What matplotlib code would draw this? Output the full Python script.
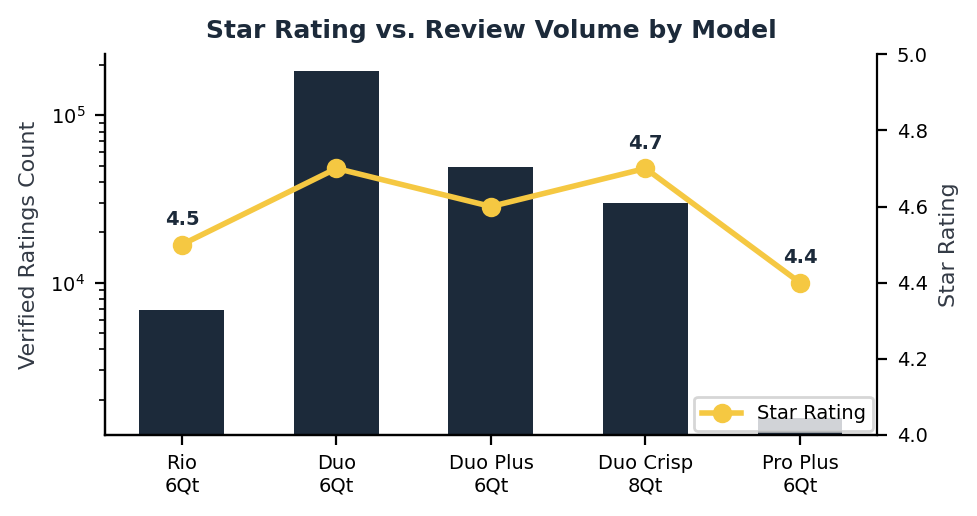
import matplotlib
matplotlib.use("Agg")
import matplotlib.pyplot as plt
import numpy as np

models = ["Rio\n6Qt", "Duo\n6Qt", "Duo Plus\n6Qt", "Duo Crisp\n8Qt", "Pro Plus\n6Qt"]
counts = [6880, 183000, 48900, 30100, 1550]
ratings = [4.5, 4.7, 4.6, 4.7, 4.4]
labeled = [0, 3, 4]

navy = "#1c2a3a"
gold = "#f5c842"

fig, ax = plt.subplots(figsize=(4.89, 2.58), dpi=200)
x = np.arange(len(models))
ax.bar(x, counts, width=0.55, color=navy, zorder=1)
ax.set_yscale("log")
ax.set_ylim(1230, 232000)
ax.set_xlim(-0.5, 4.5)
ax.set_xticks(x)
ax.set_xticklabels(models, fontsize=7)
ax.tick_params(axis="y", labelsize=7)
ax.set_ylabel("Verified Ratings Count", fontsize=8, color="#333a45")
ax.spines["top"].set_visible(False)
ax.spines["right"].set_visible(False)

ax2 = ax.twinx()
ax2.plot(x, ratings, color=gold, lw=2, marker="o", ms=6, label="Star Rating", zorder=3)
ax2.set_ylim(4.0, 5.0)
ax2.set_ylabel("Star Rating", fontsize=8, color="#333a45")
ax2.tick_params(axis="y", labelsize=7)
ax2.spines["top"].set_visible(False)
for i in labeled:
    ax2.annotate(f"{ratings[i]:.1f}", (x[i], ratings[i]), xytext=(0, 7),
                 textcoords="offset points", ha="center", fontsize=7,
                 fontweight="bold", color=navy)
ax2.legend(loc="lower right", fontsize=7, borderaxespad=0.2)
ax.set_title("Star Rating vs. Review Volume by Model", fontsize=9,
             fontweight="bold", color=navy)
fig.subplots_adjust(left=0.107, right=0.897, top=0.895, bottom=0.157)
fig.savefig("out.png", dpi=200)
